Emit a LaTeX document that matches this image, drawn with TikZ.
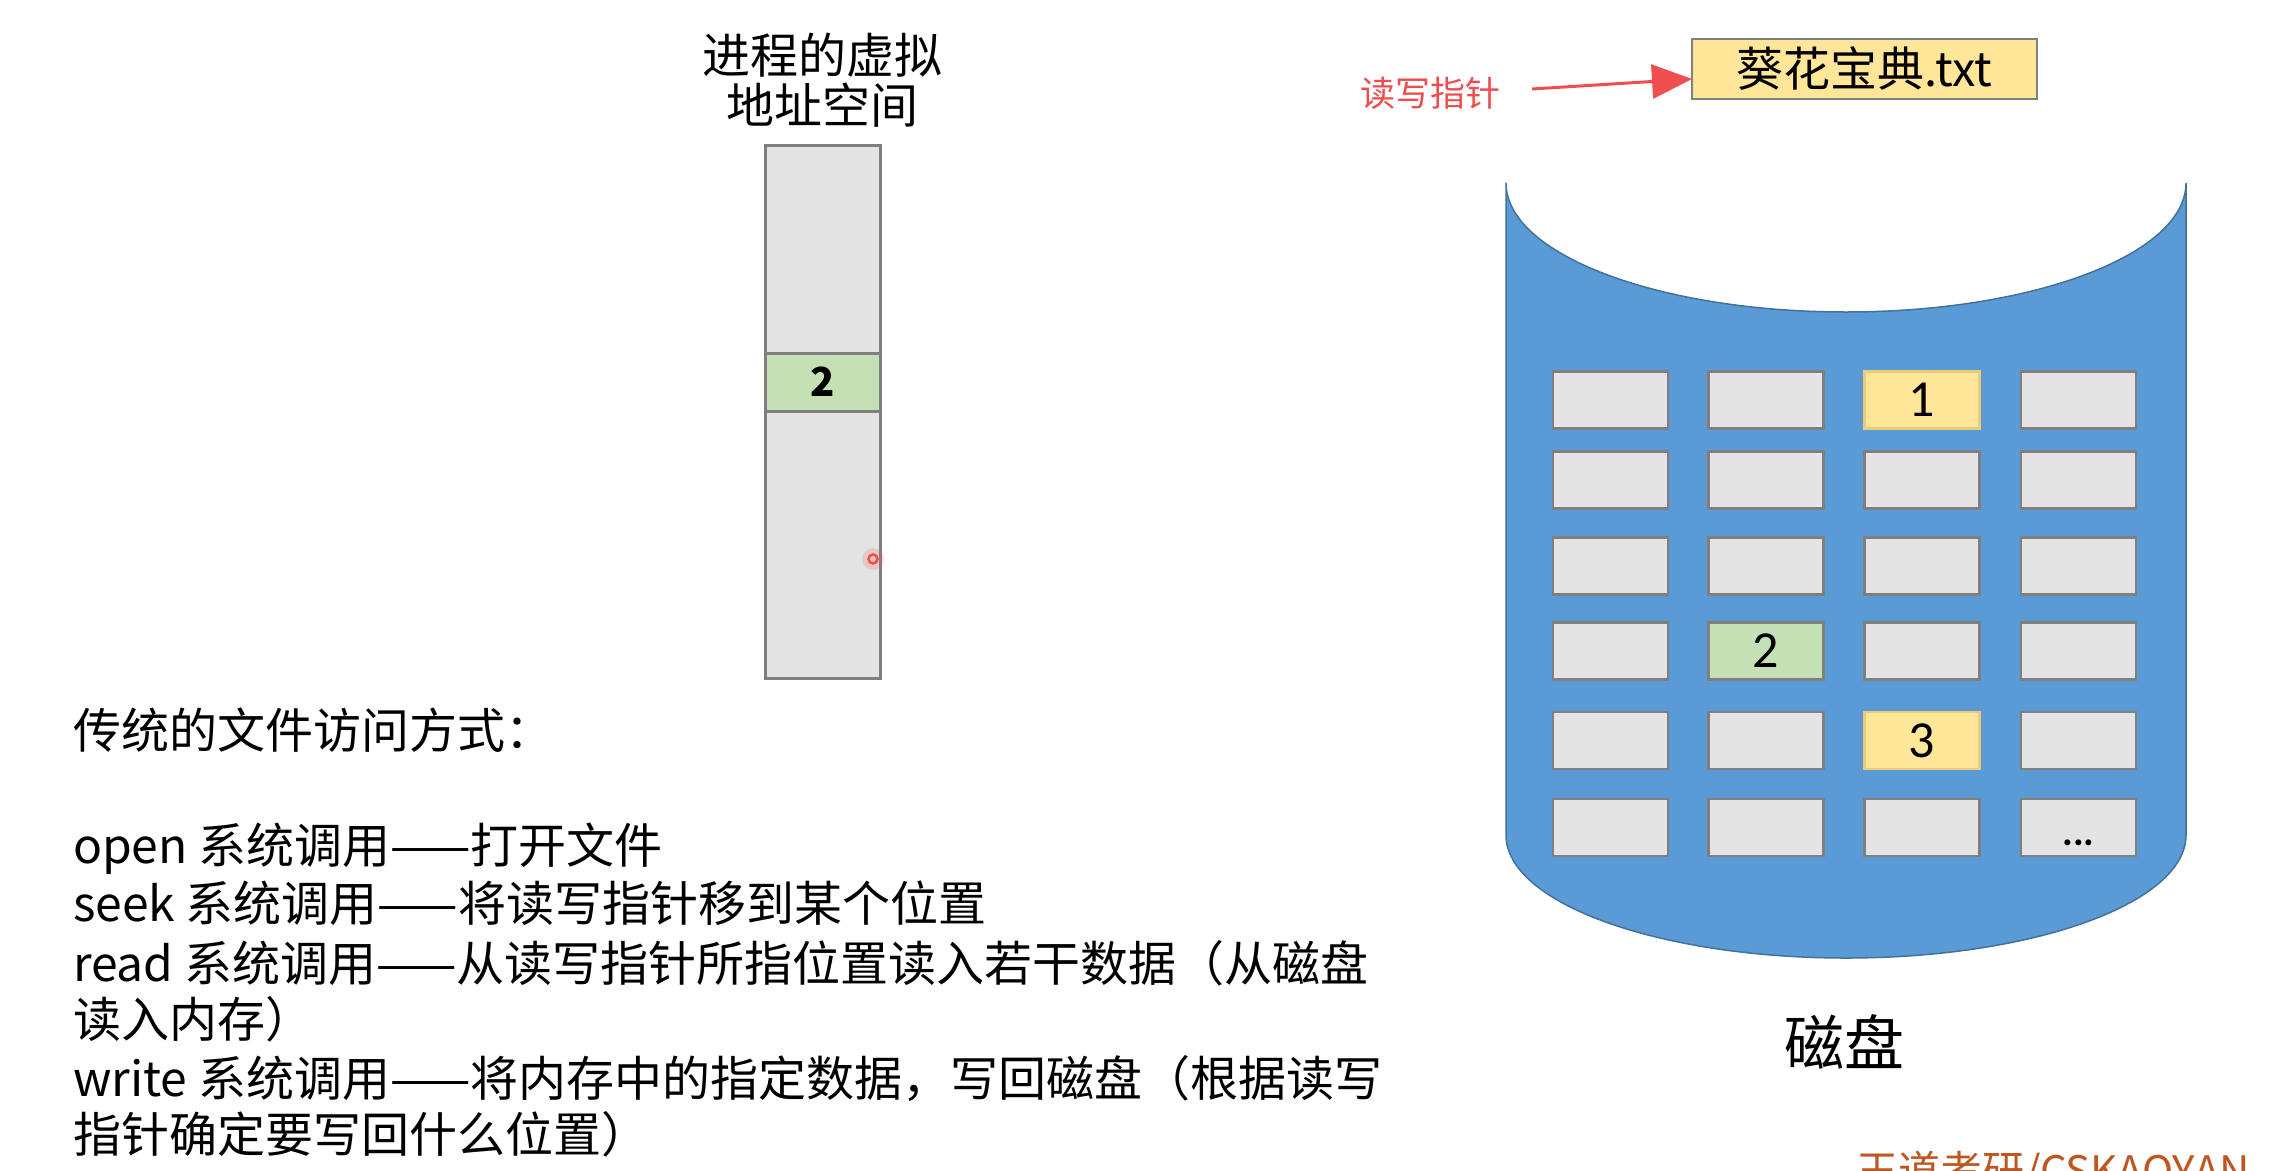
\documentclass[tikz,border=0pt]{standalone}
\usepackage{fontspec}
\newfontfamily\cjk{Noto Sans CJK SC}
\newfontfamily\calib{Carlito}
\usetikzlibrary{arrows.meta}
\definecolor{cellgray}{HTML}{E4E4E4}
\definecolor{cellline}{HTML}{7F7F7F}
\definecolor{cellgreen}{HTML}{C5E0B4}
\definecolor{cellyellow}{HTML}{FFE699}
\definecolor{yellowline}{HTML}{EBCB7A}
\definecolor{diskblue}{HTML}{5B9BD5}
\definecolor{diskline}{HTML}{41719C}
\definecolor{ptrred}{HTML}{F04E4E}
\definecolor{wmark}{HTML}{C0561F}
\begin{document}
\begin{tikzpicture}[x=1pt,y=-1pt,
  every node/.style={inner sep=0pt, outer sep=0pt},
  cell/.style={draw=cellline, fill=cellgray, line width=2.5pt, minimum width=115pt, minimum height=57pt, font=\calib\fontsize{52}{52}\selectfont},
  greencell/.style={cell, fill=cellgreen},
  yellowcell/.style={cell, fill=cellyellow, draw=yellowline},
  body/.style={anchor=base west, font=\cjk\fontsize{48}{55}\selectfont},
  title/.style={anchor=base, font=\cjk\fontsize{48}{55}\selectfont},
]
\useasboundingbox (0,0) rectangle (2277,1170);
\clip (0,0) rectangle (2277,1170);
\fill[white] (0,0) rectangle (2277,1170);

% process virtual address space
\node[title] (t1) at (822,73) {进程的虚拟};
\node[title] (t2) at (822,123) {地址空间};
\draw[draw=cellline, fill=cellgray, line width=3pt] (765,145) rectangle (880,678);
\node[draw=cellline, fill=cellgreen, line width=3pt, minimum width=115pt, minimum height=58pt,
      font=\cjk\fontsize{40}{40}\selectfont] (mem2) at (822.5,382) {\textbf{2}};
% pointer dot
\fill[ptrred, opacity=0.18] (873,559) circle[radius=11pt];
\draw[ptrred, line width=2.5pt] (873,559) circle[radius=4.5pt];

% text block
\node[body] (l0) at (73,748) {传统的文件访问方式：};
\node[body] (l1) at (73,863) {open 系统调用——打开文件};
\node[body] (l2) at (73,921) {seek 系统调用——将读写指针移到某个位置};
\node[body] (l3) at (73,981) {read 系统调用——从读写指针所指位置读入若干数据（从磁盘};
\node[body] (l4) at (73,1037) {读入内存）};
\node[body] (l5) at (73,1096) {write 系统调用——将内存中的指定数据，写回磁盘（根据读写};
\node[body] (l6) at (73,1152) {指针确定要写回什么位置）};

% file and pointer
\node[draw=cellline, fill=cellyellow, line width=2.5pt, minimum width=345pt, minimum height=60pt,
      font=\cjk\fontsize{47}{47}\selectfont] (file) at (1864.5,69) {葵花宝典.txt};
\node[font=\cjk\fontsize{35}{35}\selectfont, text=ptrred] (rp) at (1430,93) {读写指针};
\coordinate (ptrstart) at (1532,89);
\draw[ptrred, line width=3pt, -{Triangle[length=40pt,width=34pt]}] (ptrstart) -- ([yshift=-10pt]file.west);

% disk cylinder
\draw[fill=diskblue, draw=diskline, line width=1.5pt]
  (1506,183) -- (1506,835)
  arc[start angle=180, end angle=360, x radius=340pt, y radius=123pt]
  -- (2186,183)
  arc[start angle=0, end angle=-180, x radius=340pt, y radius=129pt]
  -- cycle;

% grid of blocks
\foreach \r/\yy in {1/400,2/480,3/566,4/651,5/740.5,6/827.5}{
  \foreach \c/\xx in {1/1610.5,2/1766,3/1922,4/2078.5}{
    \node[cell] (b\r\c) at (\xx,\yy) {};
  }
}
\node[yellowcell] (d1) at (1922,400) {1};
\node[greencell] (d2) at (1766,651) {2};
\node[yellowcell] (d3) at (1922,740.5) {3};
\node[font=\calib\bfseries\fontsize{40}{40}\selectfont, anchor=base] (dots) at (2078.5,845) {...};

\node[font=\cjk\fontsize{60}{60}\selectfont] (disk) at (1844,1042) {磁盘};

% watermark
\node[anchor=base west, font=\cjk\fontsize{42}{42}\selectfont, text=wmark] (wm) at (1856,1186) {王道考研/CSKAOYAN};
\end{tikzpicture}
\end{document}
